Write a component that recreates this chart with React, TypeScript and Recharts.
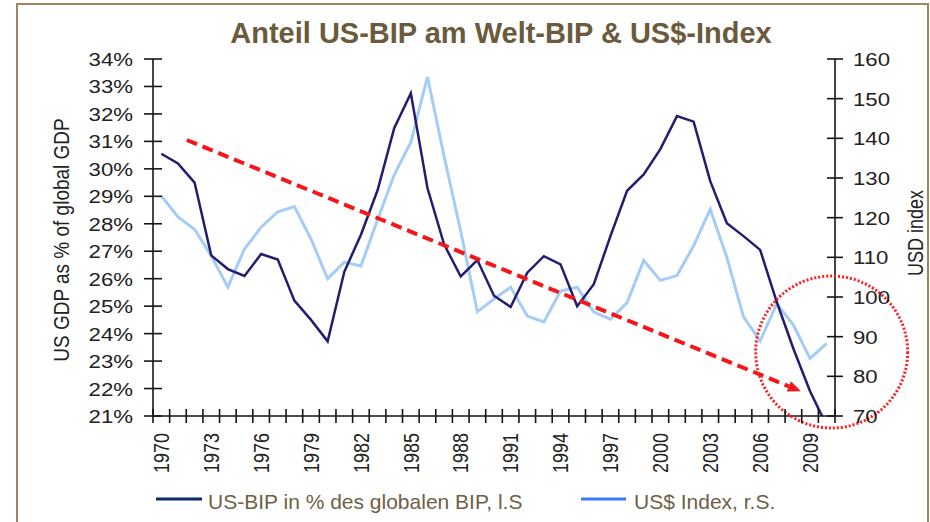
import React from 'react';
import { LineChart, Line, XAxis, YAxis, ReferenceLine, ReferenceDot } from 'recharts';

// ---------- data ----------
const years = [
  1970, 1971, 1972, 1973, 1974, 1975, 1976, 1977, 1978, 1979,
  1980, 1981, 1982, 1983, 1984, 1985, 1986, 1987, 1988, 1989,
  1990, 1991, 1992, 1993, 1994, 1995, 1996, 1997, 1998, 1999,
  2000, 2001, 2002, 2003, 2004, 2005, 2006, 2007, 2008, 2009, 2010,
];
const gdpShare = [
  30.55, 30.2, 29.5, 26.85, 26.35, 26.1, 26.9, 26.7, 25.2, 24.5,
  23.72, 26.25, 27.6, 29.22, 31.48, 32.75, 29.3, 27.25, 26.08, 26.68,
  25.38, 24.97, 26.22, 26.82, 26.52, 25.0, 25.8, 27.55, 29.2, 29.8,
  30.72, 31.92, 31.72, 29.55, 28.02, 27.55, 27.05, 25.15, 23.45, 21.9, 20.65,
];
const usdIndex = [
  125.5, 120.2, 117.1, 110.4, 102.5, 112.1, 117.6, 121.5, 122.8, 114.6,
  104.6, 108.8, 107.8, 119.5, 130.8, 139.0, 155.5, 135.5, 116.5, 96.3,
  99.5, 102.5, 95.2, 93.7, 101.5, 102.5, 96.2, 94.4, 98.6, 109.2,
  104.2, 105.4, 112.9, 122.1, 110.0, 95.0, 88.9, 98.3, 92.9, 84.5, 88.3,
];
const leftTicks = [21, 22, 23, 24, 25, 26, 27, 28, 29, 30, 31, 32, 33, 34];
const rightTicks = [70, 80, 90, 100, 110, 120, 130, 140, 150, 160];
const labelYears = [1970, 1973, 1976, 1979, 1982, 1985, 1988, 1991, 1994, 1997, 2000, 2003, 2006, 2009];
const trendStart = { x: 1971.53, y: 31.05 };
const trendEnd = { x: 2008.45, y: 21.9 };
const focusCenter = { x: 2010.3, y: 23.33 };

const titleText = 'Anteil US-BIP am Welt-BIP & US$-Index';
const leftAxisTitle = 'US GDP as % of global GDP';
const rightAxisTitle = 'USD index';
const legendGdp = 'US-BIP in % des globalen BIP, l.S';
const legendUsd = 'US$ Index, r.S.';

const data = years.map((year, i) => ({ year, gdp: gdpShare[i], usd: usdIndex[i] }));
const boundaryTicks = [...years.map((y) => y - 0.5), years[years.length - 1] + 0.5];

// ---------- layout ----------
const W = 930;
const H = 522;
const LEFT_W = 153;
const RIGHT_W = 95;
const PLOT_W = W - LEFT_W - RIGHT_W;
const STEP = PLOT_W / years.length;
const FONT = '"Liberation Sans", Arial, Helvetica, sans-serif';
const AXIS = '#151515';
const TXT = '#222';
const BROWN = '#6B5A3B';
const RED = '#F5161B';

const XTick = (props: any) => {
  const { x, y, payload } = props;
  const yr = Math.round(payload.value + 0.5);
  const show = labelYears.includes(yr);
  return (
    <g>
      <line x1={x} x2={x} y1={y - 7} y2={y + 7} stroke={AXIS} strokeWidth={1.6} />
      {show ? (
        <text
          transform={`translate(${x + STEP / 2},${y + 17}) scale(1.2,1) rotate(-90)`}
          textAnchor="end"
          dy={6.4}
          fontSize={18}
          fontFamily={FONT}
          fill={TXT}
        >
          {yr}
        </text>
      ) : null}
    </g>
  );
};

const LeftTick = (props: any) => {
  const { x, y, payload } = props;
  return (
    <g>
      <line x1={x - 9} x2={x + 9} y1={y} y2={y} stroke={AXIS} strokeWidth={1.6} />
      <text
        transform={`translate(${x - 20},${y}) scale(1.17,1)`}
        textAnchor="end"
        dy={7}
        fontSize={19}
        fontFamily={FONT}
        fill={TXT}
      >
        {payload.value}%
      </text>
    </g>
  );
};

const RightTick = (props: any) => {
  const { x, y, payload } = props;
  return (
    <g>
      <line x1={x - 8} x2={x + 8} y1={y} y2={y} stroke={AXIS} strokeWidth={1.6} />
      <text
        transform={`translate(${x + 18},${y}) scale(1.17,1)`}
        textAnchor="start"
        dy={7}
        fontSize={19}
        fontFamily={FONT}
        fill={TXT}
      >
        {payload.value}
      </text>
    </g>
  );
};

const TrendArrow = (props: any) => {
  const { x1, y1, x2, y2 } = props;
  const dx = x2 - x1;
  const dy = y2 - y1;
  const len = Math.hypot(dx, dy) || 1;
  const ux = dx / len;
  const uy = dy / len;
  const head = 13;
  const half = 5.5;
  const bx = x2 - ux * head;
  const by = y2 - uy * head;
  const px = -uy;
  const py = ux;
  return (
    <g>
      <line x1={x1} y1={y1} x2={bx} y2={by} stroke={RED} strokeWidth={4} strokeDasharray="11 6" />
      <polygon
        points={`${x2},${y2} ${bx + px * half},${by + py * half} ${bx - px * half},${by - py * half}`}
        fill={RED}
      />
    </g>
  );
};

export default function App() {
  return (
    <div style={{ position: 'absolute', left: 0, top: 0, width: W, height: H, background: '#fff', overflow: 'hidden' }}>
      <div
        style={{
          position: 'absolute',
          left: 16,
          top: 3,
          width: 913,
          height: 620,
          boxSizing: 'border-box',
          border: '2px solid #9A8760',
        }}
      />
      <div style={{ position: 'absolute', left: 0, top: 0 }}>
        <LineChart width={W} height={H} data={data} margin={{ top: 59, right: 0, bottom: 46, left: 0 }}>
          <XAxis
            dataKey="year"
            type="number"
            domain={[1969.5, 2010.5]}
            ticks={boundaryTicks}
            interval={0}
            allowDataOverflow
            height={60}
            tickSize={0}
            tickMargin={0}
            tickLine={false}
            axisLine={{ stroke: AXIS, strokeWidth: 1.6 }}
            tick={(p: any) => <XTick {...p} />}
          />
          <YAxis
            yAxisId="left"
            orientation="left"
            type="number"
            domain={[21, 34]}
            ticks={leftTicks}
            interval={0}
            allowDataOverflow
            width={LEFT_W}
            tickSize={0}
            tickMargin={0}
            tickLine={false}
            axisLine={{ stroke: AXIS, strokeWidth: 1.6 }}
            tick={(p: any) => <LeftTick {...p} />}
          />
          <YAxis
            yAxisId="right"
            orientation="right"
            type="number"
            domain={[70, 160]}
            ticks={rightTicks}
            interval={0}
            allowDataOverflow
            width={RIGHT_W}
            tickSize={0}
            tickMargin={0}
            tickLine={false}
            axisLine={{ stroke: AXIS, strokeWidth: 1.6 }}
            tick={(p: any) => <RightTick {...p} />}
          />
          <Line
            yAxisId="right"
            type="linear"
            dataKey="usd"
            stroke="#A3CDF6"
            strokeWidth={3}
            dot={false}
            activeDot={false}
            isAnimationActive={false}
          />
          <Line
            yAxisId="left"
            type="linear"
            dataKey="gdp"
            stroke="#221D70"
            strokeWidth={2.5}
            dot={false}
            activeDot={false}
            isAnimationActive={false}
          />
          <ReferenceLine
            yAxisId="left"
            segment={[trendStart, trendEnd]}
            shape={(p: any) => <TrendArrow {...p} />}
          />
          <ReferenceDot
            yAxisId="left"
            x={focusCenter.x}
            y={focusCenter.y}
            r={76}
            fill="none"
            stroke="#FF1E1E"
            strokeWidth={3}
            strokeDasharray="2 2"
            ifOverflow="visible"
          />
        </LineChart>
      </div>
      <svg
        width={W}
        height={H}
        style={{ position: 'absolute', left: 0, top: 0, pointerEvents: 'none' }}
        fontFamily={FONT}
      >
        <text x={501} y={43} textAnchor="middle" fontSize={29} fontWeight="bold" fill={BROWN}>
          {titleText}
        </text>
        <text transform="translate(69,240) scale(1.2,1) rotate(-90)" textAnchor="middle" fontSize={19} fill={TXT}>
          {leftAxisTitle}
        </text>
        <text transform="translate(923,233) scale(1.2,1) rotate(-90)" textAnchor="middle" fontSize={18} fill={TXT}>
          {rightAxisTitle}
        </text>
        <line x1={156} x2={202} y1={499} y2={499} stroke="#0B2A6A" strokeWidth={3} />
        <text x={208} y={509} fontSize={21} fill="#6E5F45">
          {legendGdp}
        </text>
        <line x1={581} x2={626} y1={499} y2={499} stroke="#3B78F2" strokeWidth={3} />
        <text x={634} y={509} fontSize={21} fill="#6E5F45">
          {legendUsd}
        </text>
      </svg>
    </div>
  );
}
